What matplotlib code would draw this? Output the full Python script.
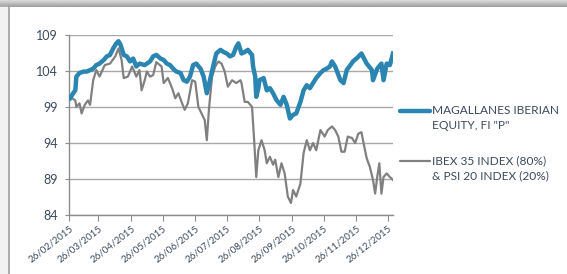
import numpy as np
import pandas as pd
import matplotlib
matplotlib.use("Agg")
import matplotlib.pyplot as plt
import matplotlib.dates as mdates
from matplotlib.patches import Rectangle
from matplotlib.lines import Line2D

# values (days counted from 26/02/2015)
start = pd.Timestamp("2015-02-26")

fund_day = [1, 4, 6, 7, 10, 14, 17, 20, 23, 26, 29, 33, 36, 39, 42, 45, 47, 49,
            52, 55, 58, 61, 64, 67, 72, 77, 80, 83, 87, 90, 93, 96, 99, 102, 106,
            109, 112, 115, 118, 121, 125, 128, 131, 134, 137, 140, 144, 147, 150,
            153, 156, 159, 161, 164, 167, 170, 174, 175, 177, 178, 180, 181, 185,
            188, 191, 194, 197, 201, 204, 207, 210, 213, 216, 220, 223, 226, 229,
            232, 235, 239, 242, 245, 248, 250, 253, 258, 261, 264, 270, 274, 278,
            283, 288, 289, 293, 297, 299, 302, 305, 308]
fund_val = [100.2, 100.9, 101.3, 103.2, 103.7, 103.9, 103.9, 104.1, 104.3, 104.8,
            105.0, 105.5, 106.0, 106.2, 107.1, 107.8, 108.1, 107.6, 106.2, 106.0,
            105.3, 105.7, 104.6, 105.0, 104.8, 105.3, 106.0, 106.2, 105.7, 105.5,
            105.0, 104.8, 104.3, 103.9, 103.7, 102.7, 102.5, 103.2, 104.8, 105.0,
            104.3, 103.2, 100.9, 102.7, 104.6, 106.4, 106.9, 106.6, 106.4, 106.0,
            106.2, 107.3, 107.8, 106.4, 106.6, 106.9, 106.2, 104.6, 103.2, 100.4,
            101.6, 102.7, 103.0, 101.3, 101.6, 100.9, 100.0, 99.3, 100.4, 99.3,
            97.4, 97.9, 98.1, 99.7, 101.3, 102.0, 101.6, 102.3, 103.0, 103.7,
            104.1, 104.3, 104.6, 105.3, 104.6, 102.7, 102.3, 104.1, 105.3, 105.8,
            106.4, 105.0, 104.1, 102.7, 104.3, 105.0, 102.7, 105.0, 104.8, 106.4]

index_day = [1, 6, 7, 10, 12, 15, 18, 20, 23, 26, 29, 34, 39, 44, 47, 50, 52, 56,
             60, 64, 67, 69, 72, 74, 77, 80, 83, 88, 90, 94, 98, 101, 104, 107,
             110, 113, 117, 120, 123, 126, 129, 131, 133, 136, 139, 142, 145, 148,
             151, 155, 159, 163, 164, 167, 170, 174, 176, 178, 180, 183, 186, 188,
             191, 194, 196, 199, 202, 205, 208, 211, 213, 216, 220, 223, 226, 229,
             232, 235, 239, 243, 246, 250, 253, 256, 259, 262, 265, 269, 272, 275,
             278, 280, 283, 286, 289, 291, 293, 295, 297, 299, 302, 305, 308]
index_val = [100.4, 99.9, 99.0, 99.5, 98.1, 99.3, 99.9, 99.3, 102.7, 104.1,
             103.2, 104.8, 105.0, 106.0, 107.1, 105.5, 103.0, 103.2, 104.6, 103.2,
             104.1, 101.3, 102.7, 103.9, 103.2, 103.4, 105.2, 104.6, 102.3, 103.0,
             101.6, 100.2, 100.9, 99.7, 98.6, 99.5, 102.7, 102.5, 99.0, 98.1,
             97.2, 94.4, 98.6, 103.2, 104.6, 105.3, 105.0, 103.9, 101.8, 102.7,
             102.3, 102.7, 102.3, 99.7, 99.7, 99.0, 94.4, 89.3, 93.0, 94.4,
             93.0, 91.2, 92.1, 91.0, 91.7, 89.3, 91.2, 89.8, 86.6, 85.7,
             87.5, 86.6, 88.4, 92.6, 94.4, 93.0, 94.0, 93.0, 95.8, 94.9,
             95.8, 96.3, 95.8, 94.9, 92.8, 92.8, 94.9, 94.7, 94.0, 95.3,
             95.5, 94.0, 91.9, 90.7, 88.9, 87.0, 89.3, 91.2, 87.0, 89.3,
             89.8, 89.3, 88.9]

y_ticks = [84, 89, 94, 99, 104, 109]
tick_dates = ["2015-02-26", "2015-03-26", "2015-04-26", "2015-05-26", "2015-06-26",
              "2015-07-26", "2015-08-26", "2015-09-26", "2015-10-26", "2015-11-26",
              "2015-12-26"]
fund_label = ['MAGALLANES IBERIAN', 'EQUITY, FI "P"']
index_label = ["IBEX 35 INDEX (80%)", "& PSI 20 INDEX (20%)"]

blue = "#2a86b0"
grey = "#808080"
txt = "#3b4a5c"

plt.rcParams["font.family"] = ["Lato", "DejaVu Sans"]

fig = plt.figure(figsize=(5.67, 2.74), dpi=100)
W, H = 567, 274

# frame of the screenshot: grey band at top, shadow and border at left
grad = np.linspace(0.86, 0.62, 20).reshape(-1, 1)
bg = fig.add_axes([0, 1 - 7 / H, 1, 7 / H])
bg.imshow(np.repeat(grad, 2, axis=1), cmap="gray", vmin=0, vmax=1, aspect="auto",
          extent=[0, 1, 0, 1])
bg.axis("off")
fig.patches.append(Rectangle((0, 0), 8 / W, 1 - 7 / H, transform=fig.transFigure,
                             color="#f2f2f2", zorder=0))
fig.lines.append(Line2D([8.5 / W, 8.5 / W], [0, 1 - 7 / H], transform=fig.transFigure,
                        color="#a0a0a0", lw=1.2))

ax = fig.add_axes([69 / W, 1 - 215.3 / H, (393 - 69) / W, (215.3 - 34.7) / H])

fd = start + pd.to_timedelta(fund_day, unit="D")
idd = start + pd.to_timedelta(index_day, unit="D")
ax.plot(idd, index_val, color=grey, lw=1.6, zorder=2)
ax.plot(fd, fund_val, color=blue, lw=3.2, zorder=3, solid_joinstyle="round")

ax.set_ylim(84, 109)
ax.set_xlim(start, start + pd.Timedelta(days=308))
ax.set_yticks(y_ticks)
ax.grid(axis="y", color="#a8a8a8", lw=1)
ax.set_axisbelow(True)
for s in ["top", "right"]:
    ax.spines[s].set_visible(False)
for s in ["left", "bottom"]:
    ax.spines[s].set_color("#8c8c8c")
    ax.spines[s].set_linewidth(1)

ax.set_xticks(pd.to_datetime(tick_dates))
ax.xaxis.set_major_formatter(mdates.DateFormatter("%d/%m/%Y"))
ax.tick_params(axis="x", length=4, color="#8c8c8c", labelsize=7, labelcolor=txt,
               pad=2)
ax.tick_params(axis="y", length=3, color="#8c8c8c", labelsize=9, labelcolor=txt,
               pad=5)
for t in ax.get_xticklabels():
    t.set_rotation(38)
    t.set_ha("right")
    t.set_rotation_mode("anchor")

# legend at the right, handle level with the first line of each entry
def legend_entry(y, color, lw, lines):
    fig.lines.append(Line2D([400 / W, 430 / W], [1 - y / H, 1 - y / H],
                            transform=fig.transFigure, color=color, lw=lw,
                            solid_capstyle="round"))
    for k, s in enumerate(lines):
        fig.text(432 / W, 1 - (y + 14.5 * k) / H, s, fontsize=8.6, color=txt,
                 va="center", ha="left")

legend_entry(111, blue, 3.2, fund_label)
legend_entry(161, grey, 1.6, index_label)

fig.savefig("out.png", dpi=100, facecolor="white")
